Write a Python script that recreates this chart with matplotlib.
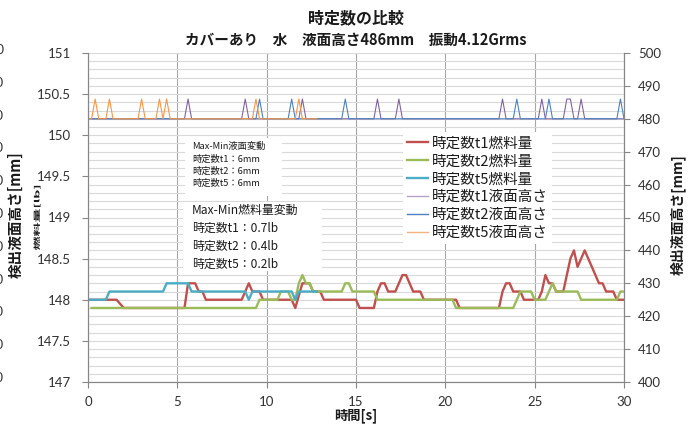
import numpy as np
import matplotlib
matplotlib.use("Agg")
import matplotlib.pyplot as plt
from matplotlib.ticker import MultipleLocator, FuncFormatter
from matplotlib.textpath import TextPath
from matplotlib.patches import PathPatch, Rectangle
from matplotlib.font_manager import FontProperties
from matplotlib.transforms import Affine2D, IdentityTransform
from matplotlib.lines import Line2D

CJK = ["Noto Sans CJK JP", "DejaVu Sans"]
NUM = ["Lato", "DejaVu Sans"]
plt.rcParams["font.family"] = CJK

# ---- fuel amount [lb] (primary axis), vertices of each trace ----
fuel_t1_time = [0, 1.6, 2.0, 5.4, 5.6, 6.0, 6.2, 6.4, 6.6, 8.6, 8.8, 9.0, 9.2, 9.6, 9.8,
                11.4, 11.6, 12.0, 12.4, 12.6, 13.0, 13.2, 15.0, 15.2, 16.0, 16.2, 16.4,
                16.6, 16.8, 17.2, 17.4, 17.6, 17.8, 18.0, 18.2, 18.6, 18.8, 20.6, 20.8,
                23.0, 23.2, 23.4, 23.6, 23.8, 24.2, 24.4, 25.2, 25.4, 25.6, 25.8, 26.0,
                26.2, 26.6, 26.8, 27.0, 27.2, 27.4, 27.6, 27.8, 28.0, 28.2, 28.4, 28.6,
                28.8, 29.0, 29.4, 29.6, 30.0]
fuel_t1_lb = [148.0, 148.0, 147.9, 147.9, 148.2, 148.2, 148.1, 148.1, 148.0, 148.0, 148.1,
              148.2, 148.1, 148.1, 148.0, 148.0, 147.9, 148.2, 148.2, 148.1, 148.1, 148.0,
              148.0, 147.9, 147.9, 148.1, 148.2, 148.2, 148.1, 148.1, 148.2, 148.3, 148.3,
              148.2, 148.1, 148.1, 148.0, 148.0, 147.9, 147.9, 148.1, 148.2, 148.2, 148.1,
              148.1, 148.0, 148.0, 148.1, 148.3, 148.2, 148.2, 148.1, 148.1, 148.3, 148.5,
              148.6, 148.4, 148.5, 148.6, 148.5, 148.4, 148.3, 148.2, 148.2, 148.1, 148.1,
              148.0, 148.0]

fuel_t2_time = [0.2, 9.4, 9.6, 10.6, 10.8, 11.2, 11.4, 11.6, 11.8, 12.0, 12.2, 12.4, 12.6,
                14.2, 14.4, 14.6, 14.8, 16.0, 16.2, 20.4, 20.6, 23.8, 24.0, 24.2, 24.8,
                25.0, 25.6, 25.8, 26.0, 26.2, 27.4, 27.6, 29.6, 29.8, 30.0]
fuel_t2_lb = [147.9, 147.9, 148.0, 148.0, 148.1, 148.1, 148.0, 148.0, 148.2, 148.3, 148.2,
              148.2, 148.1, 148.1, 148.2, 148.2, 148.1, 148.1, 148.0, 148.0, 147.9, 147.9,
              148.0, 148.1, 148.1, 148.0, 148.0, 148.1, 148.2, 148.1, 148.1, 148.0, 148.0,
              148.1, 148.1]

fuel_t5_time = [0, 1.0, 1.2, 4.2, 4.4, 5.6, 5.8, 8.8, 9.0, 9.2, 11.4, 11.6, 11.8, 12.8]
fuel_t5_lb = [148.0, 148.0, 148.1, 148.1, 148.2, 148.2, 148.1, 148.1, 148.0, 148.1, 148.1,
              148.0, 148.1, 148.1]

# ---- detected liquid level [mm] (secondary axis) ----
level_t1_time = [0, 5.4, 5.6, 5.8, 8.6, 8.8, 9.0, 11.8, 12.0, 12.2, 16.0, 16.2, 16.4,
                 17.2, 17.4, 17.6, 23.0, 23.2, 23.4, 25.2, 25.4, 25.6, 26.6, 26.8, 27.0,
                 27.2, 27.4, 27.6, 27.8, 30.0]
level_t1_mm = [480, 480, 486, 480, 480, 486, 480, 480, 486, 480, 480, 486, 480,
               480, 486, 480, 480, 486, 480, 480, 486, 480, 480, 486, 486,
               480, 480, 486, 480, 480]

level_t2_time = [0, 9.4, 9.6, 9.8, 11.2, 11.4, 11.6, 14.2, 14.4, 14.6, 23.8, 24.0, 24.2,
                 25.6, 25.8, 26.0, 29.6, 29.8, 30.0]
level_t2_mm = [480, 480, 486, 480, 480, 486, 480, 480, 486, 480, 480, 486, 480,
               480, 486, 480, 480, 486, 480]

level_t5_time = [0, 0.2, 0.4, 0.6, 1.0, 1.2, 1.4, 2.8, 3.0, 3.2, 3.8, 4.0, 4.2, 4.4, 4.6,
                 9.2, 9.4, 9.6, 11.6, 11.8, 12.0, 12.8]
level_t5_mm = [480, 480, 486, 480, 480, 486, 480, 480, 486, 480, 480, 486, 480, 486, 480,
               480, 486, 480, 480, 486, 480, 480]

series_labels = ["時定数t1燃料量", "時定数t2燃料量", "時定数t5燃料量",
                 "時定数t1液面高さ", "時定数t2液面高さ", "時定数t5液面高さ"]

title_text = "時定数の比較"
subtitle_text = "カバーあり　水　液面高さ486mm　振動4.12Grms"
level_note = "Max-Min液面変動\n時定数t1：6mm\n時定数t2：6mm\n時定数t5：6mm"
fuel_note = "Max-Min燃料量変動\n時定数t1：0.7lb\n時定数t2：0.4lb\n時定数t5：0.2lb"

W, H = 688, 430
fig = plt.figure(figsize=(W / 100, H / 100), dpi=100)
fig.patch.set_facecolor("white")

ax = fig.add_axes([88 / W, 48 / H, 536 / W, 329 / H])
ax2 = ax.twinx()

# colours
c_red, c_green, c_teal = "#C0504D", "#9BBB59", "#4BACC6"
c_purple, c_blue, c_orange = "#8064A2", "#4F81BD", "#F79646"
axis_col = "#868686"
tick_col = "#303030"

ax.set_xlim(0, 30)
ax.set_ylim(147, 151)
ax2.set_ylim(400, 500)

ax.xaxis.set_major_locator(MultipleLocator(5))
ax.yaxis.set_major_locator(MultipleLocator(0.5))
ax.yaxis.set_minor_locator(MultipleLocator(0.1))
ax2.yaxis.set_major_locator(MultipleLocator(10))
ax.yaxis.set_major_formatter(FuncFormatter(lambda v, p: f"{v:g}"))
ax2.yaxis.set_major_formatter(FuncFormatter(lambda v, p: f"{v:.0f}"))

ax.grid(which="both", axis="y", color="#D9D9D9", lw=0.8, zorder=0)
ax.grid(which="major", axis="x", color="#A6A6A6", lw=0.8, zorder=0)
ax.set_axisbelow(True)

for a in (ax, ax2):
    a.spines["top"].set_visible(False)
    for s in ("left", "right", "bottom"):
        a.spines[s].set_color(axis_col)
        a.spines[s].set_linewidth(0.8)
ax.tick_params(axis="y", which="minor", length=0)
ax.tick_params(axis="y", which="major", direction="out", length=4, color=axis_col,
               pad=8, labelsize=9.5, labelcolor=tick_col)
ax.tick_params(axis="x", direction="out", length=4, color=axis_col, pad=6,
               labelsize=9.5, labelcolor=tick_col)
ax2.tick_params(axis="y", direction="out", length=4, color=axis_col, pad=6,
                labelsize=9.5, labelcolor=tick_col)
for lab in ax.get_xticklabels() + ax.get_yticklabels() + ax2.get_yticklabels():
    lab.set_family(NUM)

# fuel traces
h1, = ax.plot(fuel_t1_time, fuel_t1_lb, color=c_red, lw=1.7, zorder=3)
h2, = ax.plot(fuel_t2_time, fuel_t2_lb, color=c_green, lw=1.7, zorder=3)
h3, = ax.plot(fuel_t5_time, fuel_t5_lb, color=c_teal, lw=1.7, zorder=3)

# level traces
h4, = ax2.plot(level_t1_time, level_t1_mm, color=c_purple, lw=0.8)
h5, = ax2.plot(level_t2_time, level_t2_mm, color=c_blue, lw=0.8)
h6, = ax2.plot(level_t5_time, level_t5_mm, color=c_orange, lw=0.8)

leg_handles = [h1, h2, h3,
               Line2D([], [], color="#B3A2C7", lw=1.0),
               Line2D([], [], color=c_blue, lw=1.0),
               Line2D([], [], color="#F4B183", lw=1.0)]
leg = ax2.legend(leg_handles, series_labels, loc="upper left",
                 bbox_to_anchor=(403 / W, 1 - 132 / H), bbox_transform=fig.transFigure,
                 frameon=True, facecolor="white", edgecolor="none", framealpha=1,
                 fancybox=False, prop=FontProperties(family=CJK, size=10.5),
                 handlelength=1.4, handletextpad=0.25, labelspacing=0.27,
                 borderpad=0.3, borderaxespad=0)
for t in leg.get_texts():
    t.set_color("#1a1a1a")

# note boxes
fig.add_artist(Rectangle((185 / W, 1 - 196 / H), 97 / W, 58 / H,
                         transform=fig.transFigure, facecolor="white",
                         edgecolor="none", zorder=2))
fig.add_artist(Rectangle((183 / W, 1 - 271 / H), 139 / W, 69 / H,
                         transform=fig.transFigure, facecolor="white",
                         edgecolor="none", zorder=2))
fig.text(192 / W, 1 - 142 / H, level_note, fontsize=6.7, ha="left", va="top",
         linespacing=1.45, color="#1a1a1a", zorder=4)
fig.text(192 / W, 1 - 204 / H, fuel_note, fontsize=8.6, ha="left", va="top",
         linespacing=1.48, color="#1a1a1a", zorder=4)

# titles
fig.text(356 / W, 1 - 18 / H, title_text, fontsize=11.5, fontweight="bold",
         ha="center", va="center", color="#1a1a1a")
fig.text(356 / W, 1 - 40 / H, subtitle_text, fontsize=10.5, fontweight="bold",
         ha="center", va="center", color="#1a1a1a")
fig.text(356 / W, 1 - 416 / H, "時間[s]", fontsize=9.5, fontweight="bold",
         ha="center", va="center", color="#1a1a1a")

# axis titles
fig.text(678 / W, 1 - 215 / H, "検出液面高さ[mm]", fontsize=10, fontweight="bold",
         rotation=90, ha="center", va="center", color="#1a1a1a")
fig.text(16 / W, 1 - 215 / H, "検出液面高さ[mm]", fontsize=10.5, fontweight="bold",
         rotation=90, ha="center", va="center", color="#1a1a1a")

# squeezed fuel-axis title
tp = TextPath((0, 0), "燃料量[lb]", size=8,
              prop=FontProperties(family="Noto Sans CJK JP", weight="bold"))
ext = tp.get_extents()
tr = (Affine2D().translate(-(ext.x0 + ext.x1) / 2, -(ext.y0 + ext.y1) / 2)
      .scale(1.75, 0.85).rotate_deg(90).translate(37, H - 218))
fig.add_artist(PathPatch(tp, transform=tr + IdentityTransform(),
                         facecolor="#1a1a1a", edgecolor="none"))

# outer scale at the left edge
for i, v in enumerate(range(500, 399, -10)):
    fig.text(4 / W, 1 - (50 + i * 32.8) / H, str(v), fontsize=9.5, family=NUM,
             ha="right", va="center", color=tick_col)

fig.savefig("out.png", dpi=100)
